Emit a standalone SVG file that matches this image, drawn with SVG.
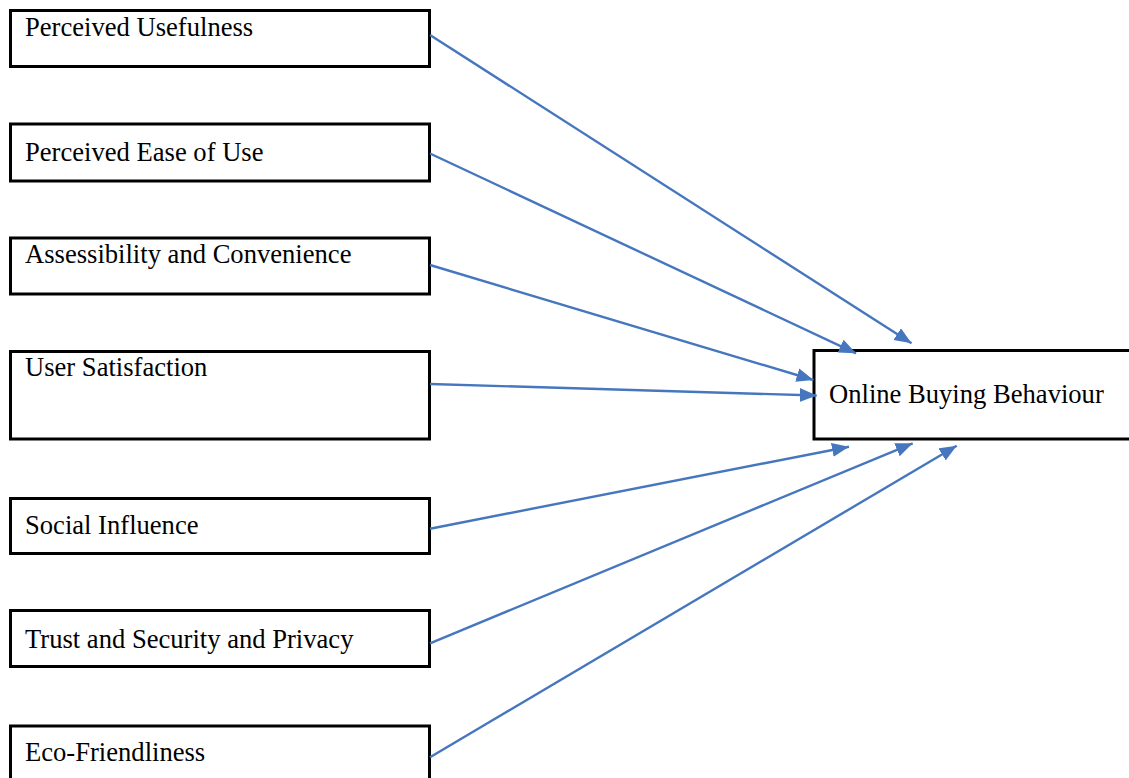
<svg xmlns="http://www.w3.org/2000/svg" width="1129" height="778" viewBox="0 0 1129 778">
<style>
  .box { fill: #ffffff; stroke: #000000; stroke-width: 3; }
  .lbl { font-family: "Liberation Serif", "Times New Roman", serif; font-size: 26.6px; fill: #000000; }
  .conn { stroke: #4677BE; stroke-width: 2.4; fill: none; marker-end: url(#arrow); }
</style>
<defs>
  <marker id="arrow" markerUnits="userSpaceOnUse" markerWidth="20" markerHeight="16" refX="17" refY="7" orient="auto">
    <path d="M0,0 L17,7 L0,14 Z" fill="#4677BE"/>
  </marker>
</defs>
<rect width="1129" height="778" fill="#ffffff"/>
<g id="n1"><rect class="box" x="10.5" y="10.5" width="419" height="56"/><text class="lbl" x="25" y="36">Perceived Usefulness</text></g>
<g id="n2"><rect class="box" x="10.5" y="124" width="419" height="57"/><text class="lbl" x="25" y="161">Perceived Ease of Use</text></g>
<g id="n3"><rect class="box" x="10.5" y="238" width="419" height="56"/><text class="lbl" x="25" y="263">Assessibility and Convenience</text></g>
<g id="n4"><rect class="box" x="10.5" y="351.5" width="419" height="87.5"/><text class="lbl" x="25" y="376">User Satisfaction</text></g>
<g id="n5"><rect class="box" x="10.5" y="498.5" width="419" height="55"/><text class="lbl" x="25" y="534">Social Influence</text></g>
<g id="n6"><rect class="box" x="10.5" y="610.5" width="419" height="56"/><text class="lbl" x="25" y="648">Trust and Security and Privacy</text></g>
<g id="n7"><rect class="box" x="10.5" y="726" width="419" height="80"/><text class="lbl" x="25" y="761">Eco-Friendliness</text></g>
<g id="target"><rect class="box" x="814" y="350.5" width="330" height="88.5"/><text class="lbl" x="829" y="403">Online Buying Behaviour</text></g>
<g id="connectors">
  <line class="conn" x1="430" y1="35" x2="911.5" y2="343.3"/>
  <line class="conn" x1="430" y1="153.5" x2="856" y2="353.3"/>
  <line class="conn" x1="430" y1="265" x2="813.5" y2="380"/>
  <line class="conn" x1="430" y1="384" x2="816.7" y2="395.5"/>
  <line class="conn" x1="430" y1="528.7" x2="849" y2="446.7"/>
  <line class="conn" x1="430" y1="643.3" x2="912.7" y2="443.3"/>
  <line class="conn" x1="430" y1="757.3" x2="956.7" y2="445.7"/>
</g>
</svg>
